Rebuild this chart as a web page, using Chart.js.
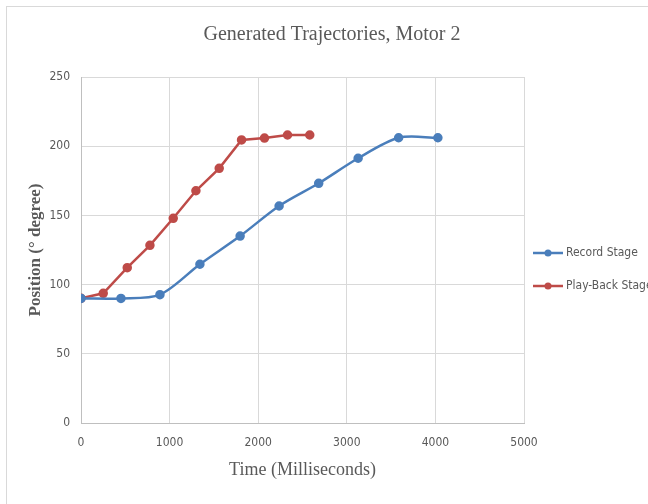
<!DOCTYPE html>
<html>
<head>
<meta charset="utf-8">
<script src="https://cdn.jsdelivr.net/npm/chart.js@4/dist/chart.umd.min.js"></script>
<style>
  html, body { margin: 0; padding: 0; background: #ffffff; }
  #wrap { width: 648px; height: 504px; position: relative; }
</style>
</head>
<body>
<div id="wrap"><canvas id="c" width="648" height="504"></canvas></div>
<script>
// ---- data ----
const chartTitle = "Generated Trajectories, Motor 2";
const xAxisTitle = "Time (Milliseconds)";
const yAxisTitle = "Position (\u00B0 degree)";
const seriesNames = ["Record Stage", "Play-Back Stage"];

const recordTime = [0, 451, 891, 1342, 1796, 2236, 2683, 3128, 3585, 4028];
const recordPos  = [90, 90, 92.7, 114.7, 135.1, 156.8, 173.2, 191.3, 206.1, 206.1];

const playTime = [0, 251, 522, 778, 1041, 1297, 1560, 1812, 2071, 2331, 2582];
const playPos  = [90.1, 93.7, 112.2, 128.4, 147.9, 167.8, 184, 204.5, 205.9, 208.1, 208.1];

const xTicks = [0, 1000, 2000, 3000, 4000, 5000];
const yTicks = [0, 50, 100, 150, 200, 250];

// ---- styling ----
const BLUE = "#4A7EBB";
const RED = "#BE4B48";
const TICK_FONT = "'Liberation Sans Narrow', 'DejaVu Sans Condensed', 'Liberation Sans', sans-serif";
const SERIF = "'Liberation Serif', 'DejaVu Serif', serif";

const toPoints = (xs, ys) => xs.map((x, i) => ({ x: x, y: ys[i] }));

const framePlugin = {
  id: "frame",
  beforeDraw(chart) {
    const ctx = chart.ctx;
    ctx.save();
    ctx.fillStyle = "#ffffff";
    ctx.fillRect(0, 0, chart.width, chart.height);
    ctx.strokeStyle = "#d9d9d9";
    ctx.lineWidth = 1;
    ctx.strokeRect(6.5, 6.5, chart.width + 20, chart.height + 20);
    ctx.restore();
  }
};

const titlePlugin = {
  id: "customTitle",
  afterDraw(chart) {
    const ctx = chart.ctx;
    ctx.save();
    ctx.fillStyle = "#595959";
    ctx.font = "20px " + SERIF;
    ctx.textAlign = "center";
    ctx.textBaseline = "middle";
    ctx.fillText(chartTitle, 332, 35);
    ctx.restore();
  }
};

const legendPlugin = {
  id: "customLegend",
  afterDraw(chart) {
    const ctx = chart.ctx;
    const ys = [253, 286];
    ctx.save();
    chart.data.datasets.forEach((ds, i) => {
      const y = ys[i];
      ctx.strokeStyle = ds.borderColor;
      ctx.lineWidth = 2.5;
      ctx.beginPath();
      ctx.moveTo(533, y);
      ctx.lineTo(563, y);
      ctx.stroke();
      ctx.fillStyle = ds.borderColor;
      ctx.beginPath();
      ctx.arc(548, y, 3.5, 0, Math.PI * 2);
      ctx.fill();
      ctx.fillStyle = "#595959";
      ctx.font = "12px " + TICK_FONT;
      ctx.textAlign = "left";
      ctx.textBaseline = "middle";
      ctx.fillText(ds.label, 566, y);
    });
    ctx.restore();
  }
};

new Chart(document.getElementById("c"), {
  type: "scatter",
  data: {
    datasets: [
      {
        label: seriesNames[0],
        data: toPoints(recordTime, recordPos),
        showLine: true,
        borderColor: BLUE,
        backgroundColor: BLUE,
        borderWidth: 2.5,
        pointRadius: 3.5,
        pointHoverRadius: 3.5,
        tension: 0.3
      },
      {
        label: seriesNames[1],
        data: toPoints(playTime, playPos),
        showLine: true,
        borderColor: RED,
        backgroundColor: RED,
        borderWidth: 2.5,
        pointRadius: 3.5,
        pointHoverRadius: 3.5,
        tension: 0
      }
    ]
  },
  options: {
    responsive: false,
    animation: false,
    layout: { padding: { left: 0, right: 124, top: 77, bottom: 0 } },
    plugins: {
      legend: { display: false },
      title: { display: false },
      tooltip: { enabled: false }
    },
    scales: {
      x: {
        type: "linear",
        min: xTicks[0],
        max: xTicks[xTicks.length - 1],
        afterBuildTicks(scale) { scale.ticks = xTicks.map(v => ({ value: v })); },
        afterFit(scale) { scale.height = 81; },
        grid: { color: "#d9d9d9", drawTicks: false, lineWidth: 1 },
        border: { color: "#bfbfbf", width: 1 },
        ticks: {
          padding: 13,
          color: "#595959",
          font: { family: TICK_FONT, size: 12 },
          callback: v => String(v)
        },
        title: {
          display: true,
          text: xAxisTitle,
          color: "#595959",
          font: { family: SERIF, size: 18 },
          padding: { top: 0, bottom: 23 }
        }
      },
      y: {
        type: "linear",
        min: yTicks[0],
        max: yTicks[yTicks.length - 1],
        afterBuildTicks(scale) { scale.ticks = yTicks.map(v => ({ value: v })); },
        afterFit(scale) { scale.width = 81; },
        grid: { color: "#d9d9d9", drawTicks: false, lineWidth: 1 },
        border: { color: "#bfbfbf", width: 1 },
        ticks: {
          padding: 11,
          color: "#595959",
          font: { family: TICK_FONT, size: 12 },
          callback: v => String(v)
        },
        title: {
          display: true,
          text: yAxisTitle,
          color: "#595959",
          font: { family: SERIF, size: 17, weight: "bold" },
          padding: { top: 25, bottom: 0 }
        }
      }
    }
  },
  plugins: [framePlugin, titlePlugin, legendPlugin]
});
</script>
</body>
</html>
